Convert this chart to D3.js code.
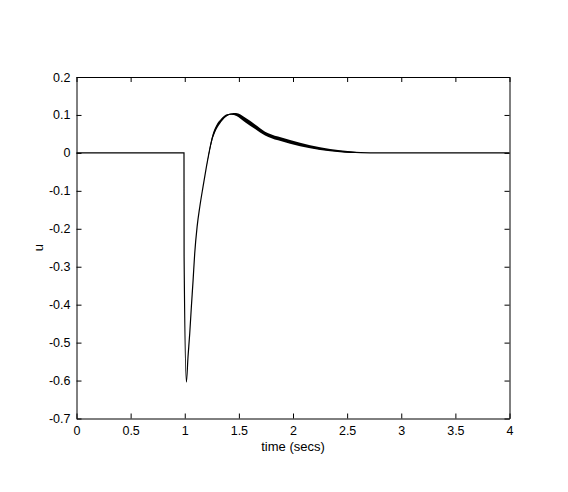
<!DOCTYPE html>
<html><head><meta charset="utf-8">
<script src="https://cdn.jsdelivr.net/npm/d3@7"></script>
<style>body{margin:0;background:#fff}svg text{font-family:"Liberation Sans",Arial,sans-serif;font-size:12.5px;fill:#000}</style>
</head><body><div id="chart"></div>
<script>
const xTicks = [0, 0.5, 1, 1.5, 2, 2.5, 3, 3.5, 4];
const xTickLabels = ["0", "0.5", "1", "1.5", "2", "2.5", "3", "3.5", "4"];
const yTicks = [0.2, 0.1, 0, -0.1, -0.2, -0.3, -0.4, -0.5, -0.6, -0.7];
const yTickLabels = ["0.2", "0.1", "0", "-0.1", "-0.2", "-0.3", "-0.4", "-0.5", "-0.6", "-0.7"];
const time = [0, 0.993, 0.994, 1.015, 1.030, 1.046, 1.061, 1.077, 1.092, 1.114, 1.139, 1.169, 1.200, 1.231, 1.255, 1.280, 1.303, 1.326, 1.382, 1.428, 1.474, 1.557, 1.650, 1.742, 1.862, 1.973, 2.158, 2.343, 2.527, 2.712, 4];
const u = [0, 0, -0.274, -0.604, -0.538, -0.476, -0.406, -0.336, -0.265, -0.195, -0.142, -0.089, -0.037, 0.010, 0.040, 0.060, 0.073, 0.082, 0.098, 0.102, 0.101, 0.087, 0.069, 0.051, 0.038, 0.029, 0.016, 0.007, 0.002, 0, 0];
// envelope of the fast oscillation (thick part of the trace)
const bandTime = [1.20, 1.231, 1.255, 1.280, 1.303, 1.326, 1.382, 1.428, 1.474, 1.557, 1.650, 1.742, 1.862, 1.973, 2.158, 2.343, 2.527, 2.65];
const bandUpper = [-0.037, 0.015, 0.046, 0.066, 0.079, 0.087, 0.101, 0.104, 0.105, 0.093, 0.075, 0.056, 0.043, 0.034, 0.020, 0.010, 0.004, 0.0];
const bandLower = [-0.037, 0.005, 0.034, 0.054, 0.067, 0.077, 0.095, 0.101, 0.098, 0.081, 0.063, 0.046, 0.033, 0.024, 0.012, 0.004, 0.000, 0.0];

const W = 568, H = 492;
const m = {left: 76.5, right: 568 - 509.5, top: 77, bottom: 492 - 418.5};
const svg = d3.select("#chart").append("svg").attr("width", W).attr("height", H);
const x = d3.scaleLinear().domain([0, 4]).range([m.left, W - m.right]);
const y = d3.scaleLinear().domain([-0.7, 0.2]).range([H - m.bottom, m.top]);

// band
const band = bandTime.map((t, i) => ({t, hi: bandUpper[i], lo: bandLower[i]}));
svg.append("path").datum(band)
  .attr("d", d3.area().x(d => x(d.t)).y0(d => y(d.lo)).y1(d => y(d.hi)).curve(d3.curveMonotoneX))
  .attr("fill", "#000");

const pts = time.map((t, i) => ({t, v: u[i]}));
svg.append("path").datum(pts)
  .attr("d", d3.line().x(d => x(d.t)).y(d => y(d.v)).curve(d3.curveMonotoneX))
  .attr("fill", "none").attr("stroke", "#000").attr("stroke-width", 1.2);

// axes box with inward ticks
const tl = 5;
const fs = "12.5px";
const gB = svg.append("g").attr("transform", `translate(0,${y(-0.7)})`)
  .call(d3.axisBottom(x).tickValues(xTicks).tickFormat((d, i) => xTickLabels[i]).tickSizeInner(-tl).tickSizeOuter(0).tickPadding(8));
const gT = svg.append("g").attr("transform", `translate(0,${y(0.2)})`)
  .call(d3.axisTop(x).tickValues(xTicks).tickFormat("").tickSizeInner(-tl).tickSizeOuter(0));
const gL = svg.append("g").attr("transform", `translate(${x(0)},0)`)
  .call(d3.axisLeft(y).tickValues(yTicks).tickFormat((d, i) => yTickLabels[i]).tickSizeInner(-tl).tickSizeOuter(0).tickPadding(6));
const gR = svg.append("g").attr("transform", `translate(${x(4)},0)`)
  .call(d3.axisRight(y).tickValues(yTicks).tickFormat("").tickSizeInner(-tl).tickSizeOuter(0));
[gB, gT, gL, gR].forEach(g => {
  g.selectAll("path,line").attr("stroke", "#000").attr("stroke-width", 1);
  g.selectAll("text").attr("font-family", null).attr("font-size", null).style("font-size", fs).attr("fill", "#000");
});

svg.append("text").attr("x", (x(0) + x(4)) / 2).attr("y", 451).attr("text-anchor", "middle").style("font-size", "13px").text("time (secs)");
svg.append("text").attr("transform", `translate(43,${(y(0.2) + y(-0.7)) / 2}) rotate(-90)`).attr("text-anchor", "middle").style("font-size", "13px").text("u");
</script></body></html>
